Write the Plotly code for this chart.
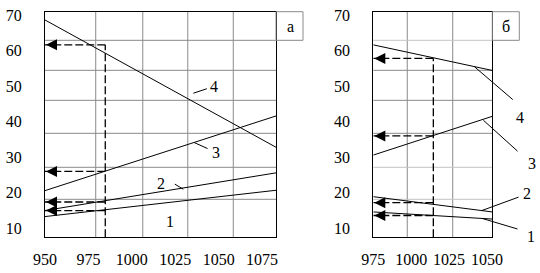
import plotly.graph_objects as go

# ---------------- data ----------------
# panel "а"
a_x = [950, 1083]
a_curve1 = [13.3, 20.7]
a_curve2 = [15.0, 25.6]
a_curve3 = [20.6, 41.6]
a_curve4 = [68.6, 32.8]
a_marker_x = 984.7
a_arrow_y = [61.6, 26.0, 17.4, 15.0]
a_xticks = [950, 975, 1000, 1025, 1050, 1075]
a_grid_x = [979.2, 1006.3, 1032.2, 1058.4]

# panel "б"
b_x = [975, 1053.5]
b_curve1 = [14.6, 12.6]
b_curve2 = [18.9, 14.6]
b_curve3 = [30.6, 41.5]
b_curve4 = [61.6, 54.4]
b_marker_x = 1014.6
b_arrow_y = [57.8, 36.0, 17.2, 13.6]
b_xticks = [975, 1000, 1025, 1050]
b_grid_x = [997.4, 1027.4]

y_range = [7.47, 70.93]
yticks = [10, 20, 30, 40, 50, 60, 70]
grid_y = [62.88, 54.44, 46.0, 36.72, 27.16, 18.16]
b_light_grid_y = [62.88, 27.16, 18.16]

curve_names = ["1", "2", "3", "4"]

# label positions (data coords) and leader lines (curve point + pixel offset)
a_labels = [("4", 1047.5, 50.0), ("3", 1048.5, 31.3), ("2", 1016.6, 22.7), ("1", 1022.0, 11.9)]
a_leaders = [(1035.4, 48.0, 15, -5), (1036.0, 34.1, 14.7, 6.6), (1029.6, 21.0, -10, -6)]
b_labels = [("4", 1072.0, 41.2), ("3", 1079.7, 28.3), ("2", 1076.6, 19.85), ("1", 1079.0, 7.6)]
b_leaders = [(1041.6, 55.5, 40, 34.3), (1047.6, 40.4, 35.7, 32.3),
             (1046.5, 14.98, 38.3, -14), (1046.9, 12.77, 36.7, 11)]

# ---------------- figure ----------------
W, H = 540, 273
FONT = "Liberation Serif, Times New Roman, DejaVu Serif, serif"
GRID = "#8a8a8a"
LIGHT = "#c4c4c4"

fig = go.Figure()

def add_panel(xs, curves, mx, arrows, xa, ya):
    for name, ys in zip(curve_names, curves):
        fig.add_trace(go.Scatter(x=xs, y=ys, mode="lines", name=name,
                                 line=dict(color="black", width=1),
                                 xaxis=xa, yaxis=ya, showlegend=False, hoverinfo="skip"))
    dash = dict(color="black", width=1.3, dash="8px,3px")
    fig.add_trace(go.Scatter(x=[mx, mx], y=[y_range[0], arrows[0]], mode="lines",
                             line=dash, xaxis=xa, yaxis=ya, showlegend=False, hoverinfo="skip"))
    for v in arrows:
        fig.add_trace(go.Scatter(x=[mx, xs[0]], y=[v, v], mode="lines",
                                 line=dash, xaxis=xa, yaxis=ya, showlegend=False, hoverinfo="skip"))
        fig.add_annotation(x=xs[0], y=v, xref=xa, yref=ya, ax=12, ay=0, text="",
                           showarrow=True, arrowhead=2, arrowsize=2.2, arrowwidth=1,
                           arrowcolor="black", standoff=1)

add_panel(a_x, [a_curve1, a_curve2, a_curve3, a_curve4], a_marker_x, a_arrow_y, "x", "y")
add_panel(b_x, [b_curve1, b_curve2, b_curve3, b_curve4], b_marker_x, b_arrow_y, "x2", "y2")

# grid lines
for gx in a_grid_x:
    fig.add_shape(type="line", xref="x", yref="y domain", x0=gx, x1=gx, y0=0, y1=1,
                  line=dict(color=GRID, width=1), layer="below")
for gx in b_grid_x:
    fig.add_shape(type="line", xref="x2", yref="y2 domain", x0=gx, x1=gx, y0=0, y1=1,
                  line=dict(color=GRID, width=1), layer="below")
for gy in grid_y:
    fig.add_shape(type="line", xref="x domain", yref="y", x0=0, x1=1, y0=gy, y1=gy,
                  line=dict(color=GRID, width=1), layer="below")
    fig.add_shape(type="line", xref="x2 domain", yref="y2", x0=0, x1=1, y0=gy, y1=gy,
                  line=dict(color=LIGHT if gy in b_light_grid_y else GRID, width=1), layer="below")

# panel letter boxes
box_top = grid_y[0]
box_y0 = (box_top - y_range[0]) / (y_range[1] - y_range[0])
fig.add_shape(type="rect", xref="x domain", yref="y domain", x0=1, x1=1 + 27 / 231,
              y0=box_y0, y1=1, line=dict(color=GRID, width=1))
fig.add_shape(type="rect", xref="x2 domain", yref="y2 domain", x0=1, x1=1 + 27 / 119,
              y0=box_y0, y1=1, line=dict(color=GRID, width=1))
fig.add_annotation(text="а", xref="x domain", yref="y domain", x=1 + 14 / 231,
                   y=(1 + box_y0) / 2, xanchor="center", yanchor="middle",
                   showarrow=False, font=dict(family=FONT, size=16, color="black"))
fig.add_annotation(text="б", xref="x2 domain", yref="y2 domain", x=1 + 14 / 119,
                   y=(1 + box_y0) / 2, xanchor="center", yanchor="middle",
                   showarrow=False, font=dict(family=FONT, size=16, color="black"))


def frac(v, rng):
    return (v - rng[0]) / (rng[1] - rng[0])


# curve labels (placed in axis-domain units so that off-range labels stay visible)
for (t, lx, ly) in a_labels:
    fig.add_annotation(text=t, x=frac(lx, a_x), y=frac(ly, y_range),
                       xref="x domain", yref="y domain", showarrow=False,
                       xanchor="center", yanchor="middle",
                       font=dict(family=FONT, size=16, color="black"))
for (t, lx, ly) in b_labels:
    fig.add_annotation(text=t, x=frac(lx, b_x), y=frac(ly, y_range),
                       xref="x2 domain", yref="y2 domain", showarrow=False,
                       xanchor="center", yanchor="middle",
                       font=dict(family=FONT, size=16, color="black"))
for (px, py, dx, dy) in a_leaders:
    fig.add_annotation(x=px, y=py, xref="x", yref="y", ax=dx, ay=dy, text="",
                       showarrow=True, arrowhead=0, arrowwidth=1, arrowcolor="black")
for (px, py, dx, dy) in b_leaders:
    fig.add_annotation(x=px, y=py, xref="x2", yref="y2", ax=dx, ay=dy, text="",
                       showarrow=True, arrowhead=0, arrowwidth=1, arrowcolor="black")

ydom = [1 - 237.3 / H, 1 - 11.7 / H]
axis_common = dict(showgrid=False, zeroline=False, showline=True, mirror=True,
                   linecolor="black", linewidth=1.3, ticks="", automargin=False,
                   ticklabeloverflow="allow",
                   tickfont=dict(family=FONT, size=16, color="black"))

fig.update_layout(
    width=W, height=H,
    margin=dict(l=0, r=0, t=0, b=0),
    paper_bgcolor="white", plot_bgcolor="white",
    showlegend=False,
    xaxis=dict(domain=[45 / W, 276 / W], range=[a_x[0], a_x[1]],
               tickvals=a_xticks, ticklabelstandoff=7, anchor="y", **axis_common),
    yaxis=dict(domain=ydom, range=y_range, tickvals=yticks, ticklabelstandoff=19,
               anchor="x", **axis_common),
    xaxis2=dict(domain=[373.3 / W, 492.3 / W], range=[b_x[0], b_x[1]],
                tickvals=b_xticks, ticklabelstandoff=7, anchor="y2", **axis_common),
    yaxis2=dict(domain=ydom, range=y_range, tickvals=yticks, ticklabelstandoff=19,
                anchor="x2", **axis_common),
)

# remove the browser's default 8px page margin so the figure sits at the window origin
fig.write_html("out.html", config={"displayModeBar": False},
               post_script="document.body.style.margin='0';")
